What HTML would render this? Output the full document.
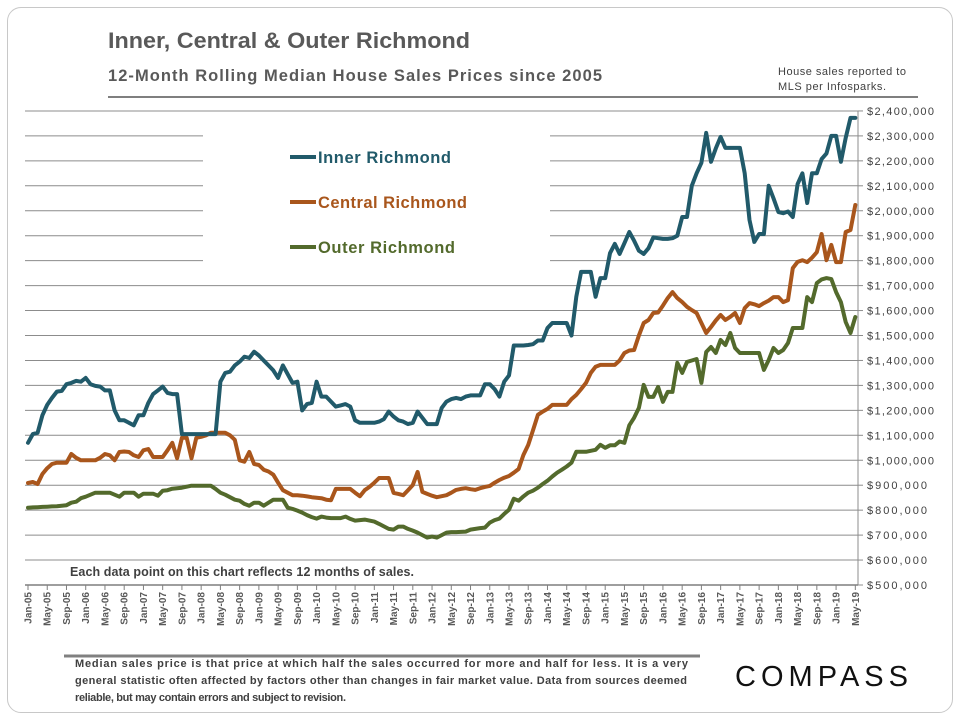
<!DOCTYPE html>
<html><head><meta charset="utf-8">
<style>
html,body{margin:0;padding:0;background:#fff;}
body{width:960px;height:720px;overflow:hidden;font-family:"Liberation Sans",sans-serif;}
#card{position:absolute;left:7px;top:7px;width:944px;height:704px;border:1px solid #c8c8c8;border-radius:14px;}
</style></head>
<body>
<div id="card"></div>
<svg id="chart" width="960" height="720" style="position:absolute;left:0;top:0">
<text x="108" y="48" font-size="22" font-weight="bold" fill="#595959" textLength="362" lengthAdjust="spacingAndGlyphs">Inner, Central &amp; Outer Richmond</text>
<text x="108" y="81" font-size="16.5" font-weight="bold" fill="#595959" textLength="494" lengthAdjust="spacing">12-Month Rolling Median House Sales Prices since 2005</text>
<line x1="108" y1="97" x2="918" y2="97" stroke="#7f7f7f" stroke-width="2"/>
<text x="778" y="75" font-size="11" fill="#404040" textLength="128">House sales reported to</text>
<text x="778" y="90" font-size="11" fill="#404040" textLength="108">MLS per Infosparks.</text>
<g id="grid"></g>
<g id="axes"></g>
<g id="series"></g>
<g>
<line x1="290" y1="157" x2="316" y2="157" stroke="#215a6a" stroke-width="4"/>
<text x="318" y="163" font-size="16.5" font-weight="bold" fill="#215a6a" textLength="133">Inner Richmond</text>
<line x1="290" y1="202" x2="316" y2="202" stroke="#a9561c" stroke-width="4"/>
<text x="318" y="208" font-size="16.5" font-weight="bold" fill="#a9561c" textLength="149">Central Richmond</text>
<line x1="290" y1="247" x2="316" y2="247" stroke="#536a2c" stroke-width="4"/>
<text x="318" y="253" font-size="16.5" font-weight="bold" fill="#536a2c" textLength="137">Outer Richmond</text>
</g>
<text x="70" y="576" font-size="12.5" font-weight="bold" fill="#404040" textLength="344">Each data point on this chart reflects 12 months of sales.</text>
<line x1="64" y1="656" x2="700" y2="656" stroke="#808080" stroke-width="3"/>
<g font-size="11" font-weight="bold" fill="#404040">
<text x="75" y="667" textLength="613">Median sales price is that price at which half the sales occurred for more and half for less. It is a very</text>
<text x="75" y="684" textLength="612">general statistic often affected by factors other than changes in fair market value. Data from sources deemed</text>
<text x="75" y="701" textLength="271">reliable, but may contain errors and subject to revision.</text>
</g>
<text x="735" y="686" font-size="29" fill="#111" textLength="173">COMPASS</text>
</svg>
<script>
const inner = [
1070,1105,1110,1180,1222,1250,1275,1278,1305,1310,1318,1315,
1330,1305,1298,1295,1280,1280,1200,1160,1160,1150,1140,1180,
1180,1230,1265,1280,1295,1270,1265,1265,1105,1105,1105,1105,
1105,1105,1105,1105,1315,1350,1355,1380,1395,1415,1410,1435,
1420,1400,1380,1360,1330,1380,1345,1310,1315,1200,1225,1230,
1315,1255,1255,1235,1215,1220,1225,1215,1160,1150,1150,1150,
1150,1155,1165,1195,1175,1160,1155,1145,1150,1195,1170,1145,
1145,1145,1210,1235,1245,1250,1245,1255,1260,1260,1260,1305,
1305,1285,1255,1315,1340,1460,1460,1460,1462,1465,1480,1480,
1530,1550,1550,1550,1550,1500,1655,1755,1755,1755,1655,1730,
1730,1830,1867,1827,1870,1915,1880,1840,1827,1850,1893,1890,
1887,1887,1890,1900,1975,1975,2100,2150,2192,2312,2196,2250,
2296,2252,2252,2252,2252,2150,1963,1875,1907,1907,2100,2050,
1995,1990,1997,1975,2107,2150,2031,2150,2150,2207,2230,2300,
2300,2196,2292,2372,2372];
const central = [
909,913,905,945,968,985,990,990,990,1025,1010,1000,
1000,1000,1000,1010,1025,1020,1000,1033,1035,1033,1020,1013,
1040,1045,1013,1013,1013,1040,1070,1008,1090,1090,1008,1090,
1094,1100,1110,1110,1110,1110,1100,1082,1000,994,1033,985,
981,962,955,942,910,880,870,860,860,858,855,852,
850,848,842,840,885,885,885,885,870,856,880,893,
910,929,929,929,869,865,860,880,901,953,873,865,
858,852,856,860,870,881,885,888,884,881,888,893,
897,910,921,930,937,950,965,1021,1061,1120,1182,1195,
1206,1222,1222,1222,1222,1245,1262,1285,1310,1350,1375,1382,
1382,1382,1382,1400,1430,1440,1442,1500,1550,1562,1590,1592,
1620,1650,1674,1650,1634,1615,1602,1590,1550,1510,1534,1560,
1582,1562,1575,1590,1550,1610,1630,1625,1618,1630,1640,1654,
1654,1634,1642,1770,1795,1802,1794,1812,1834,1907,1802,1863,
1794,1794,1915,1923,2023];
const outer = [
810,811,812,813,814,815,816,818,820,830,834,848,
854,862,870,870,870,870,862,854,870,870,870,854,
866,866,866,858,878,880,886,888,890,894,898,898,
898,898,898,885,870,862,852,842,838,825,818,830,
830,818,830,842,842,842,810,805,798,790,780,772,
766,774,770,768,768,768,774,765,758,760,762,758,
754,745,735,725,722,734,734,725,718,710,700,690,
694,690,700,710,712,712,713,714,722,725,728,730,
750,760,766,785,802,846,838,855,870,878,890,905,
918,935,950,962,975,990,1034,1034,1034,1038,1042,1062,
1050,1060,1060,1075,1070,1140,1170,1210,1302,1254,1254,1294,
1234,1274,1274,1390,1350,1394,1400,1406,1310,1434,1454,1430,
1482,1462,1510,1450,1430,1430,1430,1430,1430,1362,1402,1450,
1430,1442,1470,1530,1530,1530,1654,1634,1710,1725,1730,1726,
1674,1634,1554,1510,1574];
const yTicks = [500,600,700,800,900,1000,1100,1200,1300,1400,1500,1600,1700,1800,1900,2000,2100,2200,2300,2400];
const monthNames = ["Jan","May","Sep"];
const startYear = 2005;

const NS = "http://www.w3.org/2000/svg";
const X0 = 28, XSTEP = 4.81;
const Y500 = 585, YPER100 = 24.95;
function xScale(i){ return X0 + i*XSTEP; }
function yScale(v){ return Y500 - (v-500)/100*YPER100; }
function mk(tag, attrs, parent){ const e=document.createElementNS(NS,tag); for(const k in attrs) e.setAttribute(k,attrs[k]); parent.appendChild(e); return e; }

const grid = document.getElementById('grid');
const axes = document.getElementById('axes');
yTicks.forEach(v=>{
  const y = yScale(v);
  if (v>=1800 && v<=2300){
    const a = mk('line',{x1:25,x2:203,y1:y,y2:y,stroke:'#8c8c8c','stroke-width':1},grid);
    
    
    const b = mk('line',{x1:550,x2:858,y1:y,y2:y,stroke:'#8c8c8c','stroke-width':1},grid);
    
    
  } else if (v>500) {
    const a = mk('line',{x1:25,x2:858,y1:y,y2:y,stroke:'#8c8c8c','stroke-width':1},grid);
    
    
  }
  const t = mk('line',{x1:858,x2:863,y1:y,y2:y,stroke:'#8c8c8c'},axes);
  
  
  const lbl = mk('text',{x:867,y:y+4,'font-size':11,fill:'#404040',textLength:(v>=1000?67:60)},axes);
  lbl.textContent = '$'+(v*1000).toLocaleString('en-US');
  
  
});
const yAxis = mk('line',{x1:858,x2:858,y1:yScale(2400),y2:Y500,stroke:'#8c8c8c'},axes);


const xAxis = mk('line',{x1:25,x2:858,y1:Y500,y2:Y500,stroke:'#7f7f7f','stroke-width':1.5},axes);


for (let i=0;i<inner.length;i+=4){
  const x = xScale(i);
  const tk = mk('line',{x1:x,x2:x,y1:Y500,y2:Y500+5,stroke:'#7f7f7f'},axes);
  
  
  const yr = startYear + Math.floor(i/12);
  const name = monthNames[(i%12)/4];
  const lbl = mk('text',{x:0,y:0,'font-size':10,'font-weight':'bold',fill:'#595959','text-anchor':'end',transform:`translate(${x+3.5},${Y500+7}) rotate(-90)`},axes);
  lbl.textContent = name+'-'+String(yr%100).padStart(2,'0');
  
  
}
const seriesG = document.getElementById('series');
function drawLine(arr,color,name){
  const d = arr.map((v,i)=>(i?'L':'M')+xScale(i).toFixed(1)+','+yScale(v).toFixed(1)).join(' ');
  const p = mk('path',{d:d,fill:'none',stroke:color,'stroke-width':4,'stroke-linejoin':'round','stroke-linecap':'round'},seriesG);
  
  
}
drawLine(outer,'#536a2c','outer-richmond-line');
drawLine(central,'#a9561c','central-richmond-line');
drawLine(inner,'#215a6a','inner-richmond-line');
</script>
</body></html>
